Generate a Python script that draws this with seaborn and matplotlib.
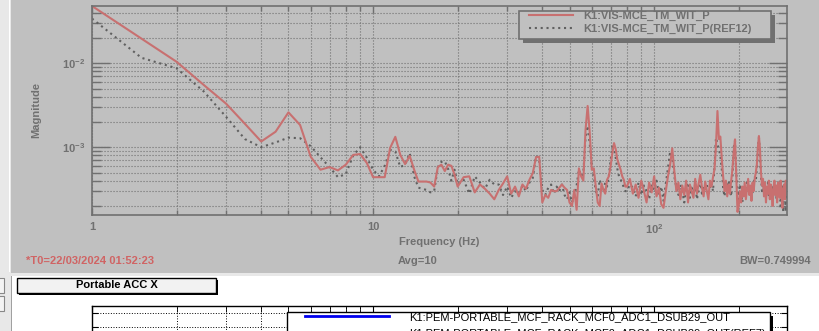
import numpy as np
import matplotlib.pyplot as plt
import matplotlib.ticker as mticker
from matplotlib.patches import Rectangle
from matplotlib.lines import Line2D
import seaborn as sns

plt.rcParams['font.family'] = ['Liberation Sans', 'DejaVu Sans']
plt.rcParams['mathtext.fontset'] = 'custom'
plt.rcParams['mathtext.rm'] = 'Liberation Sans:bold'
plt.rcParams['mathtext.it'] = 'Liberation Sans:bold'
plt.rcParams['mathtext.bf'] = 'Liberation Sans:bold'

# frequency bins (Hz)
freq_low = np.arange(1.0, 20.5, 0.5)
freq_mid = np.arange(21, 80, 1)
freq_high = np.arange(80, 302, 2)

# K1:VIS-MCE_TM_WIT_P, magnitude in units of 1e-3
wit_low = [48, 19.6, 10.4, 5.5, 3.3, 1.9, 1.17, 1.53, 2.6, 1.84,
           0.77, 0.54, 0.58, 0.53, 0.62, 0.81, 0.83, 0.65, 0.44, 0.44,
           0.44, 0.98, 1.33, 0.81, 0.63, 0.79, 0.54, 0.39, 0.39, 0.39,
           0.38, 0.34, 0.58, 0.62, 0.52, 0.62, 0.60, 0.47, 0.34]
wit_mid = [0.44, 0.45, 0.29, 0.36, 0.32, 0.28, 0.24, 0.31, 0.37, 0.45,
           0.28, 0.34, 0.26, 0.36, 0.32, 0.41, 0.49, 0.76, 0.77, 0.22,
           0.27, 0.25, 0.31, 0.30, 0.30, 0.33, 0.36, 0.33, 0.31, 0.22,
           0.20, 0.31, 0.18, 0.56, 0.45, 0.40, 1.6, 3.1, 1.5, 0.54,
           0.56, 0.34, 0.22, 0.20, 0.37, 0.31, 0.28, 0.41, 0.45, 0.59,
           0.85, 1.12, 0.95, 0.71, 0.62, 0.54, 0.45, 0.41, 0.34]
wit_high = [0.34, 0.42, 0.28, 0.36, 0.25, 0.40, 0.30, 0.22, 0.38, 0.29,
            0.45, 0.26, 0.33, 0.21, 0.19, 0.30, 0.45, 0.62, 0.97, 0.52,
            0.30, 0.38, 0.24, 0.35, 0.27, 0.40, 0.22, 0.36, 0.30, 0.25,
            0.42, 0.28, 0.37, 0.47, 0.33, 0.26, 0.39, 0.30, 0.24, 0.40,
            0.34, 0.44, 0.55, 1.05, 2.7, 1.25, 1.34, 0.75, 0.45, 0.30,
            0.40, 0.26, 0.36, 0.28, 0.40, 0.55, 0.90, 1.24, 0.45, 0.17,
            0.20, 0.30, 0.22, 0.34, 0.26, 0.38, 0.24, 0.32, 0.42, 0.27,
            0.35, 0.23, 0.38, 0.30, 0.42, 0.50, 0.62, 1.0, 1.36, 0.95,
            0.50, 0.35, 0.42, 0.26, 0.38, 0.22, 0.34, 0.28, 0.40, 0.24,
            0.36, 0.29, 0.20, 0.33, 0.40, 0.27, 0.35, 0.22, 0.38, 0.30,
            0.25, 0.40, 0.28, 0.19, 0.32, 0.36, 0.24, 0.40, 0.27, 0.35,
            0.30]

# K1:VIS-MCE_TM_WIT_P(REF12), magnitude in units of 1e-3
ref_low = [34, 11.6, 8.7, 4.6, 2.3, 1.25, 1.0, 1.14, 1.30, 1.28,
           1.03, 0.76, 0.58, 0.44, 0.48, 0.80, 1.0, 0.75, 0.54, 0.45,
           0.60, 0.93, 0.89, 0.58, 0.62, 0.85, 0.45, 0.33, 0.32, 0.31,
           0.29, 0.30, 0.58, 0.67, 0.68, 0.55, 0.40, 0.54, 0.36]
ref_mid = [0.41, 0.28, 0.45, 0.38, 0.32, 0.41, 0.36, 0.36, 0.27, 0.34,
           0.25, 0.30, 0.28, 0.35, 0.30, 0.38, 0.43, 0.79, 0.71, 0.31,
           0.27, 0.33, 0.36, 0.28, 0.34, 0.30, 0.36, 0.27, 0.24, 0.29,
           0.22, 0.26, 0.35, 0.54, 0.45, 0.50, 1.3, 1.8, 1.1, 0.59,
           0.45, 0.30, 0.26, 0.41, 0.35, 0.30, 0.38, 0.34, 0.45, 0.70,
           1.02, 0.95, 0.75, 0.55, 0.45, 0.41, 0.38, 0.33, 0.30]
ref_high = [0.30, 0.36, 0.33, 0.26, 0.38, 0.27, 0.35, 0.30, 0.24, 0.36,
            0.31, 0.40, 0.28, 0.34, 0.23, 0.36, 0.55, 0.88, 0.77, 0.45,
            0.33, 0.27, 0.36, 0.30, 0.22, 0.34, 0.38, 0.25, 0.33, 0.29,
            0.36, 0.24, 0.31, 0.40, 0.28, 0.35, 0.30, 0.36, 0.27, 0.33,
            0.38, 0.30, 0.60, 1.3, 1.1, 0.93, 0.80, 0.55, 0.33, 0.26,
            0.36, 0.30, 0.40, 0.32, 0.26, 0.45, 1.0, 1.2, 0.50, 0.30,
            0.24, 0.36, 0.28, 0.22, 0.31, 0.35, 0.28, 0.38, 0.30, 0.36,
            0.26, 0.33, 0.29, 0.37, 0.45, 0.40, 0.55, 0.95, 1.3, 0.80,
            0.45, 0.30, 0.36, 0.31, 0.27, 0.34, 0.30, 0.38, 0.25, 0.33,
            0.29, 0.36, 0.30, 0.26, 0.35, 0.30, 0.24, 0.33, 0.29, 0.37,
            0.31, 0.20, 0.34, 0.36, 0.17, 0.30, 0.35, 0.17, 0.32, 0.26,
            0.30]

label_wit = "K1:VIS-MCE_TM_WIT_P"
label_ref = "K1:VIS-MCE_TM_WIT_P(REF12)"
label_acc = "K1:PEM-PORTABLE_MCF_RACK_MCF0_ADC1_DSUB29_OUT"
label_acc_ref = "K1:PEM-PORTABLE_MCF_RACK_MCF0_ADC1_DSUB29_OUT(REF7)"

freq = np.concatenate([freq_low, freq_mid, freq_high])
wit = np.array(wit_low + wit_mid + wit_high) * 1e-3
ref = np.array(ref_low + ref_mid + ref_high) * 1e-3

RED = '#c87070'
DARK = '#606060'
AXC = '#707070'
PANEL = '#c0c0c0'

W, H = 819, 331
def fx(px):
    return px / W
def fy(py):
    return 1 - py / H

fig = plt.figure(figsize=(8.19, 3.31), dpi=100, facecolor=PANEL)

# window chrome
def rect(x0, y0, x1, y1, fc, ec='none', lw=0, z=-5):
    fig.patches.append(Rectangle((fx(x0), fy(y1)), fx(x1) - fx(x0), fy(y0) - fy(y1),
                                 transform=fig.transFigure, facecolor=fc, edgecolor=ec,
                                 linewidth=lw, zorder=z))

rect(0, 0, 11, 331, '#e8e8e8')
rect(9, 0, 10.5, 272, 'white')
rect(11, 273, 819, 276, '#e8e8e8')
rect(11, 276, 819, 331, 'white')
rect(11, 275.5, 12, 331, '#a0a0a0')
rect(-2, 278, 4, 293, '#f4f4f4', ec='#888888', lw=0.8)
rect(-2, 296, 4, 311, '#f4f4f4', ec='#888888', lw=0.8)

# main plot
ax = fig.add_axes([fx(92), fy(215), fx(787) - fx(92), fy(6) - fy(215)])
ax.set_facecolor(PANEL)
sns.lineplot(x=freq, y=ref, ax=ax, color=DARK, lw=1.5, linestyle=(0, (1, 1.8)),
             estimator=None, sort=False)
sns.lineplot(x=freq, y=wit, ax=ax, color=RED, lw=1.5, estimator=None, sort=False)
ax.set_xscale('log')
ax.set_yscale('log')
ax.set_xlim(1, 297)
ax.set_ylim(1.56e-4, 0.048)
ax.set_xticks([1, 10, 100], ['1', '10', '$10^{2}$'])
ax.set_yticks([1e-3, 1e-2], ['$10^{-3}$', '$10^{-2}$'])
ax.xaxis.set_minor_locator(mticker.LogLocator(subs=np.arange(2, 10)))
ax.yaxis.set_minor_locator(mticker.LogLocator(subs=np.arange(2, 10)))
ax.xaxis.set_minor_formatter(mticker.NullFormatter())
ax.yaxis.set_minor_formatter(mticker.NullFormatter())
ax.grid(True, which='both', linestyle=(0, (1, 1.7)), color=AXC, lw=0.8)
ax.tick_params(which='both', direction='in', top=True, right=True, color=AXC,
               labelcolor=AXC, labelsize=8, pad=5)
ax.tick_params(axis='y', which='major', length=13, width=1)
ax.tick_params(axis='y', which='minor', length=6.5, width=1)
ax.tick_params(axis='x', which='major', length=5, width=1)
ax.tick_params(axis='x', which='minor', length=3.6, width=1)
for lab in ax.get_xticklabels() + ax.get_yticklabels():
    lab.set_fontweight('bold')
for s in ax.spines.values():
    s.set_color(AXC)
    s.set_linewidth(1.2)
ax.set_xlabel('Frequency (Hz)', color=AXC, fontsize=8, fontweight='bold')
ax.set_ylabel('Magnitude', color=AXC, fontsize=8, fontweight='bold')
ax.xaxis.set_label_coords(0.5, -0.105)
ax.yaxis.set_label_coords(-0.073, 0.5)

# legend of main plot
rect(523, 15, 775, 43, AXC, z=2)
rect(519, 11, 771, 39, PANEL, ec=AXC, lw=1.2, z=3)
h_wit = Line2D([], [], color=RED, lw=1.5)
h_ref = Line2D([], [], color=DARK, lw=1.5, linestyle=(0, (1, 1.8)))
leg = fig.legend([h_wit, h_ref], [label_wit, label_ref], loc='upper left',
                 bbox_to_anchor=(fx(529), fy(11)), bbox_transform=fig.transFigure,
                 frameon=False, borderpad=0, borderaxespad=0, handlelength=3.96,
                 handletextpad=0.9, labelspacing=0.25, prop={'size': 8, 'weight': 'bold'})
for t in leg.get_texts():
    t.set_color(AXC)

fig.text(fx(26), fy(261), '*T0=22/03/2024 01:52:23', color='#d06464', fontsize=8,
         fontweight='bold', ha='left', va='center')
fig.text(fx(418), fy(261), 'Avg=10', color=AXC, fontsize=8, fontweight='bold',
         ha='center', va='center')
fig.text(fx(811), fy(261), 'BW=0.749994', color=AXC, fontsize=8, fontweight='bold',
         ha='right', va='center')

# lower panel
rect(19, 280, 218, 295, 'black', z=2)
rect(17, 278, 216, 293, '#f2f2f2', ec='black', lw=1, z=3)
fig.text(fx(116.5), fy(285.5), 'Portable ACC X', color='black', fontsize=8,
         fontweight='bold', ha='center', va='center', zorder=4)

ax2 = fig.add_axes([fx(92), -0.6, fx(787) - fx(92), fy(306) + 0.6])
ax2.set_facecolor('white')
ax2.set_xscale('log')
ax2.set_xlim(1, 297)
ax2.set_ylim(-15.47, 0.5)
ax2.yaxis.set_major_locator(mticker.MultipleLocator(1))
ax2.xaxis.set_minor_locator(mticker.LogLocator(subs=np.arange(2, 10)))
ax2.grid(True, which='both', linestyle=(0, (1, 1.7)), color='black', lw=0.7)
ax2.tick_params(which='both', direction='in', top=True, right=True, color='black',
                labelbottom=False, labelleft=False, length=4)
for s in ax2.spines.values():
    s.set_color('black')
    s.set_linewidth(1)

rect(770, 316, 773, 331, 'black', z=2)
rect(287, 312, 770, 340, 'white', ec='black', lw=1, z=3)
h_acc = Line2D([], [], color='#0000ee', lw=2)
h_acc_ref = Line2D([], [], color='#606060', lw=1.5, linestyle=(0, (1, 1.8)))
fig.legend([h_acc, h_acc_ref], [label_acc, label_acc_ref], loc='upper left',
           bbox_to_anchor=(fx(305), fy(312)), bbox_transform=fig.transFigure,
           frameon=False, borderpad=0, borderaxespad=0, handlelength=7.6,
           handletextpad=1.8, labelspacing=0.65, prop={'size': 8})

fig.savefig('out.png', dpi=100, facecolor=fig.get_facecolor())
